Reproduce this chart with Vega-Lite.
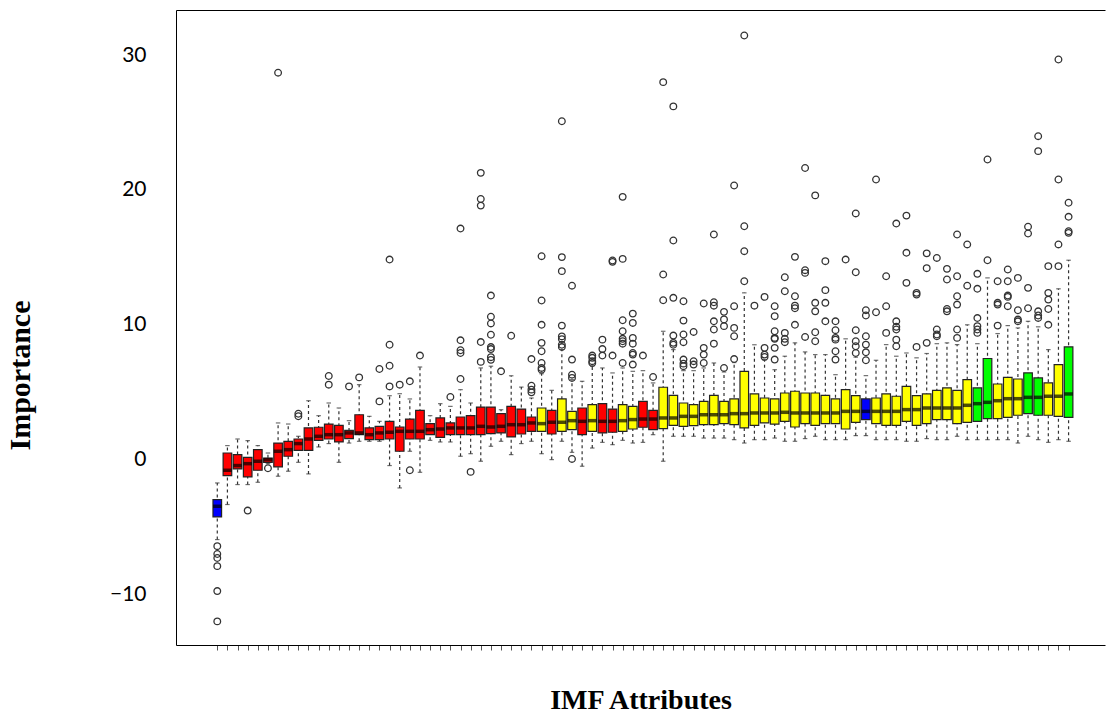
{
  "$schema": "https://vega.github.io/schema/vega-lite/v6.json",
  "width": 929,
  "height": 635,
  "autosize": {"type": "none"},
  "padding": {"left": 176, "top": 10, "right": 2, "bottom": 75},
  "background": "white",
  "config": {
    "view": {"stroke": null},
    "axis": {"grid": false}
  },
  "datasets": {
    "boxes": [
      {"i":1,"c":"Shadow","lo":-5.93,"q1":-4.25,"med":-3.46,"q3":-2.96,"hi":-1.73},
      {"i":2,"c":"Rejected","lo":-3.33,"q1":-1.19,"med":-0.79,"q3":0.49,"hi":1.04},
      {"i":3,"c":"Rejected","lo":-1.85,"q1":-0.69,"med":-0.44,"q3":0.37,"hi":1.53},
      {"i":4,"c":"Rejected","lo":-1.85,"q1":-1.28,"med":-0.30,"q3":0.17,"hi":1.41},
      {"i":5,"c":"Rejected","lo":-1.68,"q1":-0.79,"med":-0.12,"q3":0.74,"hi":1.04},
      {"i":6,"c":"Rejected","lo":-0.30,"q1":-0.20,"med":0.0,"q3":0.12,"hi":0.49},
      {"i":7,"c":"Rejected","lo":-1.23,"q1":-0.54,"med":0.62,"q3":1.23,"hi":2.72},
      {"i":8,"c":"Rejected","lo":-0.86,"q1":0.25,"med":0.74,"q3":1.36,"hi":2.64},
      {"i":9,"c":"Rejected","lo":-0.20,"q1":0.69,"med":1.19,"q3":1.53,"hi":1.73},
      {"i":10,"c":"Rejected","lo":-1.06,"q1":0.69,"med":1.53,"q3":2.35,"hi":4.37},
      {"i":11,"c":"Rejected","lo":0.94,"q1":1.43,"med":1.73,"q3":2.40,"hi":3.26},
      {"i":12,"c":"Rejected","lo":1.19,"q1":1.53,"med":1.85,"q3":2.64,"hi":4.20},
      {"i":13,"c":"Rejected","lo":-0.20,"q1":1.31,"med":1.85,"q3":2.54,"hi":3.83},
      {"i":14,"c":"Rejected","lo":1.23,"q1":1.56,"med":1.98,"q3":2.17,"hi":2.89},
      {"i":15,"c":"Rejected","lo":1.36,"q1":1.85,"med":1.98,"q3":3.33,"hi":5.56},
      {"i":16,"c":"Rejected","lo":1.36,"q1":1.48,"med":1.85,"q3":2.35,"hi":3.21},
      {"i":17,"c":"Rejected","lo":1.36,"q1":1.48,"med":1.98,"q3":2.47,"hi":2.84},
      {"i":18,"c":"Rejected","lo":-0.44,"q1":1.53,"med":2.03,"q3":2.84,"hi":4.74},
      {"i":19,"c":"Rejected","lo":-2.10,"q1":0.62,"med":2.10,"q3":2.42,"hi":4.89},
      {"i":20,"c":"Rejected","lo":0.62,"q1":1.53,"med":2.10,"q3":3.01,"hi":4.50},
      {"i":21,"c":"Rejected","lo":-0.94,"q1":1.53,"med":2.10,"q3":3.66,"hi":6.87},
      {"i":22,"c":"Rejected","lo":1.43,"q1":1.85,"med":2.22,"q3":2.67,"hi":3.26},
      {"i":23,"c":"Rejected","lo":1.31,"q1":1.65,"med":2.27,"q3":3.09,"hi":4.15},
      {"i":24,"c":"Rejected","lo":1.31,"q1":1.85,"med":2.35,"q3":2.72,"hi":3.95},
      {"i":25,"c":"Rejected","lo":0.25,"q1":1.85,"med":2.35,"q3":3.16,"hi":5.19},
      {"i":26,"c":"Rejected","lo":0.44,"q1":1.85,"med":2.35,"q3":3.26,"hi":4.20},
      {"i":27,"c":"Rejected","lo":-0.12,"q1":1.85,"med":2.47,"q3":3.90,"hi":6.80},
      {"i":28,"c":"Rejected","lo":0.99,"q1":1.93,"med":2.42,"q3":3.90,"hi":6.93},
      {"i":29,"c":"Rejected","lo":1.36,"q1":1.98,"med":2.47,"q3":3.41,"hi":3.70},
      {"i":30,"c":"Rejected","lo":0.37,"q1":1.68,"med":2.59,"q3":3.95,"hi":6.22},
      {"i":31,"c":"Rejected","lo":1.19,"q1":1.90,"med":2.59,"q3":3.75,"hi":5.38},
      {"i":32,"c":"Rejected","lo":1.36,"q1":2.10,"med":2.72,"q3":3.16,"hi":4.57},
      {"i":33,"c":"Tentative","lo":0.44,"q1":2.10,"med":2.67,"q3":3.83,"hi":6.37},
      {"i":34,"c":"Rejected","lo":0.00,"q1":1.90,"med":2.77,"q3":3.66,"hi":5.14},
      {"i":35,"c":"Tentative","lo":1.36,"q1":2.10,"med":2.77,"q3":4.50,"hi":8.16},
      {"i":36,"c":"Tentative","lo":0.54,"q1":2.22,"med":2.89,"q3":3.58,"hi":5.93},
      {"i":37,"c":"Rejected","lo":-0.49,"q1":1.85,"med":2.84,"q3":3.83,"hi":5.81},
      {"i":38,"c":"Tentative","lo":0.86,"q1":2.10,"med":2.89,"q3":4.08,"hi":6.93},
      {"i":39,"c":"Rejected","lo":1.28,"q1":1.98,"med":2.84,"q3":4.15,"hi":6.80},
      {"i":40,"c":"Rejected","lo":1.11,"q1":2.03,"med":2.84,"q3":3.75,"hi":6.43},
      {"i":41,"c":"Tentative","lo":1.43,"q1":2.10,"med":2.89,"q3":4.08,"hi":6.80},
      {"i":42,"c":"Tentative","lo":1.23,"q1":2.27,"med":2.97,"q3":3.95,"hi":6.55},
      {"i":43,"c":"Rejected","lo":1.28,"q1":2.40,"med":3.01,"q3":4.32,"hi":6.60},
      {"i":44,"c":"Rejected","lo":1.85,"q1":2.22,"med":3.01,"q3":3.66,"hi":5.69},
      {"i":45,"c":"Tentative","lo":-0.12,"q1":2.30,"med":3.09,"q3":5.37,"hi":9.52},
      {"i":46,"c":"Tentative","lo":1.73,"q1":2.54,"med":3.09,"q3":4.77,"hi":8.16},
      {"i":47,"c":"Tentative","lo":1.73,"q1":2.47,"med":3.21,"q3":4.20,"hi":6.60},
      {"i":48,"c":"Tentative","lo":1.73,"q1":2.52,"med":3.21,"q3":4.08,"hi":6.60},
      {"i":49,"c":"Tentative","lo":1.60,"q1":2.59,"med":3.33,"q3":4.32,"hi":6.80},
      {"i":50,"c":"Tentative","lo":1.60,"q1":2.59,"med":3.33,"q3":4.77,"hi":7.17},
      {"i":51,"c":"Tentative","lo":1.60,"q1":2.67,"med":3.33,"q3":4.32,"hi":6.50},
      {"i":52,"c":"Tentative","lo":1.48,"q1":2.59,"med":3.41,"q3":4.50,"hi":7.20},
      {"i":53,"c":"Tentative","lo":1.23,"q1":2.35,"med":3.41,"q3":6.55,"hi":12.37},
      {"i":54,"c":"Tentative","lo":1.48,"q1":2.54,"med":3.46,"q3":4.87,"hi":8.52},
      {"i":55,"c":"Tentative","lo":1.48,"q1":2.72,"med":3.46,"q3":4.57,"hi":7.40},
      {"i":56,"c":"Tentative","lo":1.60,"q1":2.64,"med":3.46,"q3":4.50,"hi":6.67},
      {"i":57,"c":"Tentative","lo":1.36,"q1":2.84,"med":3.51,"q3":4.94,"hi":7.67},
      {"i":58,"c":"Tentative","lo":1.36,"q1":2.42,"med":3.46,"q3":5.07,"hi":8.66},
      {"i":59,"c":"Tentative","lo":1.56,"q1":2.67,"med":3.46,"q3":4.94,"hi":7.99},
      {"i":60,"c":"Tentative","lo":1.73,"q1":2.54,"med":3.46,"q3":4.94,"hi":7.79},
      {"i":61,"c":"Tentative","lo":1.48,"q1":2.67,"med":3.46,"q3":4.77,"hi":7.79},
      {"i":62,"c":"Tentative","lo":1.48,"q1":2.67,"med":3.46,"q3":4.50,"hi":6.30},
      {"i":63,"c":"Tentative","lo":1.48,"q1":2.27,"med":3.58,"q3":5.19,"hi":8.96},
      {"i":64,"c":"Tentative","lo":1.78,"q1":2.77,"med":3.58,"q3":4.74,"hi":7.60},
      {"i":65,"c":"Shadow","lo":1.78,"q1":2.97,"med":3.58,"q3":4.50,"hi":6.23},
      {"i":66,"c":"Tentative","lo":1.48,"q1":2.67,"med":3.58,"q3":4.57,"hi":7.37},
      {"i":67,"c":"Tentative","lo":1.48,"q1":2.54,"med":3.58,"q3":4.87,"hi":8.53},
      {"i":68,"c":"Tentative","lo":1.48,"q1":2.54,"med":3.58,"q3":4.70,"hi":7.67},
      {"i":69,"c":"Tentative","lo":1.36,"q1":2.84,"med":3.71,"q3":5.43,"hi":7.91},
      {"i":70,"c":"Tentative","lo":1.36,"q1":2.54,"med":3.71,"q3":4.74,"hi":7.55},
      {"i":71,"c":"Tentative","lo":1.56,"q1":2.67,"med":3.83,"q3":4.87,"hi":7.87},
      {"i":72,"c":"Tentative","lo":1.48,"q1":2.97,"med":3.83,"q3":5.14,"hi":8.60},
      {"i":73,"c":"Tentative","lo":1.48,"q1":2.97,"med":3.83,"q3":5.32,"hi":8.66},
      {"i":74,"c":"Tentative","lo":1.73,"q1":2.67,"med":3.83,"q3":5.14,"hi":8.53},
      {"i":75,"c":"Tentative","lo":1.48,"q1":2.77,"med":4.03,"q3":5.94,"hi":10.00},
      {"i":76,"c":"Confirmed","lo":1.48,"q1":2.84,"med":4.15,"q3":5.32,"hi":8.60},
      {"i":77,"c":"Confirmed","lo":1.48,"q1":3.04,"med":4.25,"q3":7.50,"hi":13.48},
      {"i":78,"c":"Tentative","lo":1.48,"q1":3.04,"med":4.37,"q3":5.61,"hi":9.35},
      {"i":79,"c":"Tentative","lo":1.48,"q1":3.14,"med":4.52,"q3":6.10,"hi":9.94},
      {"i":80,"c":"Tentative","lo":1.23,"q1":3.29,"med":4.52,"q3":5.98,"hi":9.77},
      {"i":81,"c":"Confirmed","lo":1.73,"q1":3.41,"med":4.62,"q3":6.43,"hi":10.26},
      {"i":82,"c":"Confirmed","lo":1.48,"q1":3.29,"med":4.62,"q3":6.06,"hi":9.85},
      {"i":83,"c":"Tentative","lo":1.28,"q1":3.29,"med":4.70,"q3":5.69,"hi":8.16},
      {"i":84,"c":"Tentative","lo":1.48,"q1":3.21,"med":4.70,"q3":7.05,"hi":12.67},
      {"i":85,"c":"Confirmed","lo":1.36,"q1":3.14,"med":4.87,"q3":8.36,"hi":14.79}
    ],
    "outliers": [
      {"i":1,"v":-6.42},{"i":1,"v":-7.0},{"i":1,"v":-7.3},{"i":1,"v":-7.9},{"i":1,"v":-9.75},{"i":1,"v":-12.0},
      {"i":4,"v":-3.78},
      {"i":6,"v":-0.64},
      {"i":7,"v":28.7},
      {"i":9,"v":3.4},{"i":9,"v":3.22},
      {"i":12,"v":6.2},{"i":12,"v":5.56},
      {"i":14,"v":5.43},
      {"i":15,"v":6.1},
      {"i":17,"v":4.32},{"i":17,"v":6.72},
      {"i":18,"v":5.43},{"i":18,"v":6.96},{"i":18,"v":8.52},{"i":18,"v":14.84},
      {"i":19,"v":5.56},
      {"i":20,"v":5.81},{"i":20,"v":-0.79},
      {"i":21,"v":7.72},
      {"i":24,"v":4.65},
      {"i":25,"v":5.98},{"i":25,"v":7.91},{"i":25,"v":8.11},{"i":25,"v":8.85},{"i":25,"v":17.14},
      {"i":26,"v":-0.91},
      {"i":27,"v":7.25},{"i":27,"v":8.72},{"i":27,"v":18.84},{"i":27,"v":19.33},{"i":27,"v":21.27},
      {"i":28,"v":7.4},{"i":28,"v":7.6},{"i":28,"v":8.2},{"i":28,"v":8.35},{"i":28,"v":9.26},{"i":28,"v":10.1},{"i":28,"v":10.6},{"i":28,"v":12.17},
      {"i":29,"v":6.55},
      {"i":30,"v":9.19},
      {"i":32,"v":4.99},{"i":32,"v":5.19},{"i":32,"v":5.48},{"i":32,"v":7.46},
      {"i":33,"v":6.67},{"i":33,"v":6.8},{"i":33,"v":7.17},{"i":33,"v":8.04},{"i":33,"v":8.66},{"i":33,"v":10.0},{"i":33,"v":11.8},{"i":33,"v":15.09},
      {"i":35,"v":8.35},{"i":35,"v":8.52},{"i":35,"v":8.94},{"i":35,"v":9.14},{"i":35,"v":9.94},{"i":35,"v":13.98},{"i":35,"v":15.02},{"i":35,"v":25.1},
      {"i":36,"v":6.06},{"i":36,"v":6.3},{"i":36,"v":7.42},{"i":36,"v":12.9},{"i":36,"v":0.05},
      {"i":38,"v":7.17},{"i":38,"v":7.3},{"i":38,"v":7.55},{"i":38,"v":7.72},
      {"i":39,"v":7.72},{"i":39,"v":8.2},{"i":39,"v":8.9},
      {"i":40,"v":7.72},{"i":40,"v":14.77},{"i":40,"v":14.67},
      {"i":41,"v":7.17},{"i":41,"v":8.6},{"i":41,"v":8.78},{"i":41,"v":8.96},{"i":41,"v":9.52},{"i":41,"v":10.34},{"i":41,"v":14.89},{"i":41,"v":19.49},
      {"i":42,"v":7.05},{"i":42,"v":7.79},{"i":42,"v":7.91},{"i":42,"v":8.6},{"i":42,"v":9.03},{"i":42,"v":10.14},{"i":42,"v":10.83},
      {"i":43,"v":7.72},
      {"i":44,"v":6.13},
      {"i":45,"v":11.82},{"i":45,"v":13.73},{"i":45,"v":28.0},
      {"i":46,"v":8.52},{"i":46,"v":8.66},{"i":46,"v":9.2},{"i":46,"v":12.0},{"i":46,"v":16.25},{"i":46,"v":26.2},
      {"i":47,"v":6.93},{"i":47,"v":7.12},{"i":47,"v":7.42},{"i":47,"v":8.71},{"i":47,"v":9.28},{"i":47,"v":10.31},{"i":47,"v":11.75},
      {"i":48,"v":7.05},{"i":48,"v":7.3},{"i":48,"v":9.47},
      {"i":49,"v":7.17},{"i":49,"v":7.79},{"i":49,"v":8.29},{"i":49,"v":11.58},
      {"i":50,"v":8.6},{"i":50,"v":9.65},{"i":50,"v":10.26},{"i":50,"v":11.42},{"i":50,"v":11.67},{"i":50,"v":16.7},
      {"i":51,"v":6.8},{"i":51,"v":9.9},{"i":51,"v":10.4},{"i":51,"v":10.96},
      {"i":52,"v":7.46},{"i":52,"v":9.15},{"i":52,"v":9.77},{"i":52,"v":11.38},{"i":52,"v":20.33},
      {"i":53,"v":13.23},{"i":53,"v":15.46},{"i":53,"v":17.31},{"i":53,"v":31.46},
      {"i":54,"v":11.42},
      {"i":55,"v":7.62},{"i":55,"v":7.79},{"i":55,"v":8.29},{"i":55,"v":12.07},
      {"i":56,"v":7.42},{"i":56,"v":8.29},{"i":56,"v":8.96},{"i":56,"v":9.03},{"i":56,"v":9.52},{"i":56,"v":10.64},{"i":56,"v":11.38},
      {"i":57,"v":8.71},{"i":57,"v":8.96},{"i":57,"v":9.4},{"i":57,"v":12.49},{"i":57,"v":13.53},
      {"i":58,"v":10.0},{"i":58,"v":11.23},{"i":58,"v":11.42},{"i":58,"v":12.12},{"i":58,"v":15.04},
      {"i":59,"v":9.1},{"i":59,"v":13.85},{"i":59,"v":14.05},{"i":59,"v":21.63},
      {"i":60,"v":8.78},{"i":60,"v":9.45},{"i":60,"v":11.0},{"i":60,"v":11.63},{"i":60,"v":19.6},
      {"i":61,"v":10.26},{"i":61,"v":11.63},{"i":61,"v":12.57},{"i":61,"v":14.72},
      {"i":62,"v":7.42},{"i":62,"v":8.04},{"i":62,"v":8.9},{"i":62,"v":9.03},{"i":62,"v":9.6},{"i":62,"v":10.26},
      {"i":63,"v":14.84},
      {"i":64,"v":7.91},{"i":64,"v":8.41},{"i":64,"v":8.78},{"i":64,"v":9.6},{"i":64,"v":13.9},{"i":64,"v":18.26},
      {"i":65,"v":7.37},{"i":65,"v":7.96},{"i":65,"v":8.53},{"i":65,"v":9.15},{"i":65,"v":10.69},{"i":65,"v":11.08},
      {"i":66,"v":10.93},{"i":66,"v":20.78},
      {"i":67,"v":9.4},{"i":67,"v":11.38},{"i":67,"v":13.6},
      {"i":68,"v":8.41},{"i":68,"v":8.9},{"i":68,"v":9.65},{"i":68,"v":9.85},{"i":68,"v":10.26},{"i":68,"v":17.51},
      {"i":69,"v":13.11},{"i":69,"v":15.34},{"i":69,"v":18.1},
      {"i":70,"v":8.36},{"i":70,"v":12.24},{"i":70,"v":12.37},
      {"i":71,"v":8.66},{"i":71,"v":14.2},{"i":71,"v":15.3},
      {"i":72,"v":9.15},{"i":72,"v":9.28},{"i":72,"v":9.65},{"i":72,"v":14.96},
      {"i":73,"v":11.0},{"i":73,"v":11.17},{"i":73,"v":13.36},{"i":73,"v":14.15},
      {"i":74,"v":9.03},{"i":74,"v":9.65},{"i":74,"v":11.5},{"i":74,"v":12.12},{"i":74,"v":13.6},{"i":74,"v":16.7},
      {"i":75,"v":12.9},{"i":75,"v":15.96},
      {"i":76,"v":9.4},{"i":76,"v":9.65},{"i":76,"v":9.9},{"i":76,"v":10.5},{"i":76,"v":12.67},{"i":76,"v":13.78},
      {"i":77,"v":14.79},{"i":77,"v":22.26},
      {"i":78,"v":9.94},{"i":78,"v":11.5},{"i":78,"v":11.63},{"i":78,"v":13.23},
      {"i":79,"v":11.38},{"i":79,"v":12.07},{"i":79,"v":12.17},{"i":79,"v":13.23},{"i":79,"v":14.1},
      {"i":80,"v":10.26},{"i":80,"v":10.39},{"i":80,"v":11.08},{"i":80,"v":13.48},
      {"i":81,"v":11.23},{"i":81,"v":12.74},{"i":81,"v":16.77},{"i":81,"v":17.27},
      {"i":82,"v":10.51},{"i":82,"v":10.69},{"i":82,"v":11.0},{"i":82,"v":22.88},{"i":82,"v":23.99},
      {"i":83,"v":10.0},{"i":83,"v":11.17},{"i":83,"v":11.87},{"i":83,"v":12.37},{"i":83,"v":14.35},
      {"i":84,"v":14.35},{"i":84,"v":15.96},{"i":84,"v":20.78},{"i":84,"v":29.68},
      {"i":85,"v":16.82},{"i":85,"v":16.94},{"i":85,"v":18.01},{"i":85,"v":19.05}
    ]
  },
  "resolve": {"axis": {"x": "independent", "y": "independent"}},
  "layer": [
    {
      "data": {"name": "boxes"},
      "mark": {"type": "rule", "strokeDash": [3, 3], "color": "#333333", "strokeWidth": 1.2},
      "encoding": {
        "x": {
          "field": "i", "type": "quantitative",
          "scale": {"domain": [-2.58, 88.1], "nice": false, "zero": false},
          "axis": {
            "orient": "bottom", "title": "IMF Attributes",
            "values": [1,2,3,4,5,6,7,8,9,10,11,12,13,14,15,16,17,18,19,20,21,22,23,24,25,26,27,28,29,30,31,32,33,34,35,36,37,38,39,40,41,42,43,44,45,46,47,48,49,50,51,52,53,54,55,56,57,58,59,60,61,62,63,64,65,66,67,68,69,70,71,72,73,74,75,76,77,78,79,80,81,82,83,84,85],
            "labels": false, "ticks": true, "tickSize": 5, "tickColor": "#555555",
            "domain": true, "domainColor": "#000000", "domainWidth": 1,
            "titleFont": "Liberation Serif", "titleFontWeight": "bold", "titleFontSize": 28,
            "titleColor": "#000000", "titlePadding": 36
          }
        },
        "y": {
          "field": "lo", "type": "quantitative",
          "scale": {"domain": [-13.75, 33.35], "nice": false, "zero": false},
          "axis": {
            "orient": "left",
            "title": "Importance", "values": [-10, 0, 10, 20, 30],
            "domain": true, "domainColor": "#000000", "domainWidth": 1,
            "ticks": false, "labelPadding": 30,
            "labelFont": "Lato", "labelFontSize": 21, "labelColor": "#000000",
            "titleFont": "Liberation Serif", "titleFontWeight": "bold", "titleFontSize": 30,
            "titleColor": "#000000", "titleX": -141, "titleY": 365
          }
        },
        "y2": {"field": "hi"}
      }
    },
    {
      "data": {"name": "boxes"},
      "mark": {"type": "tick", "orient": "horizontal", "size": 4.5, "thickness": 1.2, "color": "#333333"},
      "encoding": {
        "x": {"field": "i", "type": "quantitative", "axis": null},
        "y": {"field": "lo", "type": "quantitative", "axis": null}
      }
    },
    {
      "data": {"name": "boxes"},
      "mark": {"type": "tick", "orient": "horizontal", "size": 4.5, "thickness": 1.2, "color": "#333333"},
      "encoding": {
        "x": {"field": "i", "type": "quantitative", "axis": null},
        "y": {"field": "hi", "type": "quantitative", "axis": null}
      }
    },
    {
      "data": {"name": "boxes"},
      "mark": {"type": "bar", "orient": "vertical", "width": 8.6, "stroke": "#222222", "strokeWidth": 1.2},
      "encoding": {
        "x": {"field": "i", "type": "quantitative", "axis": null},
        "y": {"field": "q1", "type": "quantitative", "axis": null},
        "y2": {"field": "q3"},
        "fill": {
          "field": "c", "type": "nominal", "legend": null,
          "scale": {"domain": ["Rejected", "Tentative", "Confirmed", "Shadow"], "range": ["#FF0000", "#FFFF00", "#00FF00", "#0000FF"]}
        }
      }
    },
    {
      "data": {"name": "boxes"},
      "mark": {"type": "tick", "orient": "horizontal", "size": 8.6, "thickness": 3.5, "color": "#000000"},
      "encoding": {
        "x": {"field": "i", "type": "quantitative", "axis": null},
        "y": {"field": "med", "type": "quantitative", "axis": null}
      }
    },
    {
      "data": {"name": "outliers"},
      "mark": {"type": "point", "shape": "circle", "filled": false, "size": 44, "stroke": "#333333", "strokeWidth": 1.3, "opacity": 1},
      "encoding": {
        "x": {
          "field": "i", "type": "quantitative",
          "axis": {"orient": "top", "title": null, "labels": false, "ticks": false, "domain": true, "domainColor": "#000000", "domainWidth": 1}
        },
        "y": {"field": "v", "type": "quantitative", "axis": null}
      }
    }
  ]
}
